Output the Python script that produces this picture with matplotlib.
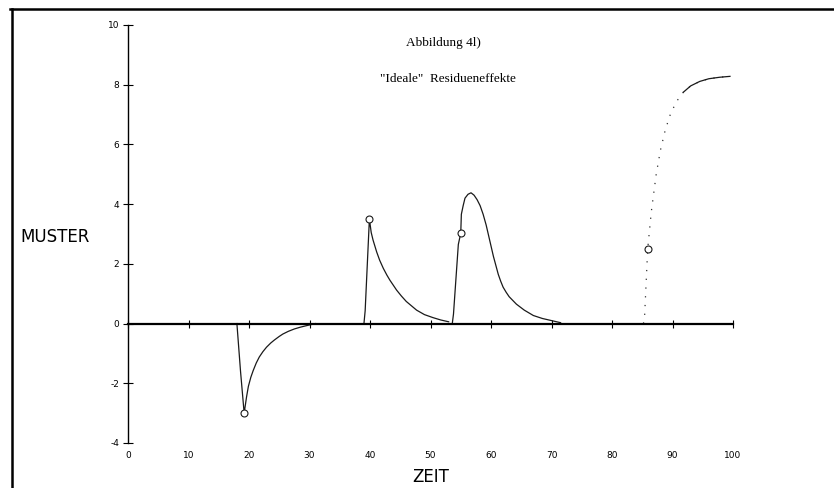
import matplotlib
matplotlib.use('Agg')
import matplotlib.pyplot as plt
from matplotlib.lines import Line2D

# Residue events (time, sample value)
neg_t = [18.0, 18.6, 19.2, 19.6, 19.9, 20.3, 20.7, 21.2, 21.7, 22.3, 22.9,
         23.6, 24.2, 25.0, 25.6, 26.5, 27.5, 28.5, 29.5, 31.0]
neg_m = [0.0, -1.6, -3.0, -2.45, -2.1, -1.8, -1.57, -1.32, -1.12, -0.94, -0.79,
         -0.65, -0.55, -0.43, -0.35, -0.26, -0.18, -0.12, -0.07, 0.0]

spike_t = [39.0, 39.2, 39.9, 40.2, 40.5, 41.1, 41.6, 42.2, 42.8, 43.3, 44.4,
           45.2, 46.0, 47.7, 49.0, 50.4, 51.7, 53.0]
spike_m = [0.0, 0.43, 3.5, 3.05, 2.8, 2.4, 2.12, 1.85, 1.62, 1.45, 1.12,
           0.92, 0.74, 0.45, 0.3, 0.2, 0.12, 0.06]

hump_t = [53.6, 53.8, 54.6, 55.0, 55.1, 55.4, 55.7, 56.2, 56.7, 57.2, 57.7,
          58.2, 58.7, 59.2, 59.6, 60.0, 60.4, 60.8, 61.2, 61.6, 62.0, 62.5,
          63.0, 64.2, 65.5, 67.0, 68.5, 70.0, 71.5]
hump_m = [0.0, 0.32, 2.65, 3.03, 3.66, 3.95, 4.2, 4.33, 4.38, 4.3, 4.15,
          3.95, 3.66, 3.3, 2.95, 2.6, 2.25, 1.95, 1.65, 1.42, 1.22, 1.05,
          0.9, 0.65, 0.45, 0.27, 0.17, 0.1, 0.03]

rise_t = [85.2, 85.4, 85.9, 86.5, 87.3, 88.0, 88.8, 89.6, 90.6, 91.8, 93.0,
          94.5, 96.0, 97.8, 99.5]
rise_m = [0.0, 0.3, 2.5, 3.75, 4.99, 5.8, 6.48, 6.98, 7.42, 7.75, 7.96,
          8.11, 8.2, 8.25, 8.28]

mark_t = [19.2, 39.9, 55.0, 85.9]
mark_m = [-3.0, 3.5, 3.03, 2.5]

x_ticks = [0, 10, 20, 30, 40, 50, 60, 70, 80, 90, 100]
y_ticks = [-4, -2, 0, 2, 4, 6, 8, 10]

title_1 = 'Abbildung 4l)'
title_2 = '"Ideale"  Residueneffekte'

plt.rcParams['axes.unicode_minus'] = False

dpi = 100
fig = plt.figure(figsize=(834 / dpi, 488 / dpi), dpi=dpi)
ax = fig.add_axes([128 / 834, 45 / 488, 605 / 834, 418 / 488])

line_kw = {'color': '#1a1a1a', 'linewidth': 0.9}
ax.plot(neg_t, neg_m, **line_kw)
ax.plot(spike_t, spike_m, **line_kw)
ax.plot(hump_t, hump_m, **line_kw)

# last event is mostly faded in the scan: sparse dots, solid tail
ax.plot(rise_t, rise_m, color='#333333', linewidth=0.9, linestyle=(0, (1, 6)))
tail = [i for i, t in enumerate(rise_t) if t >= 91.8]
ax.plot([rise_t[i] for i in tail], [rise_m[i] for i in tail], **line_kw)

ax.plot(mark_t, mark_m, linestyle='none', marker='o', markersize=5,
        markerfacecolor='white', markeredgecolor='#1a1a1a', markeredgewidth=0.8)

ax.set_xlim(0, 100)
ax.set_ylim(-4, 10)
ax.spines['top'].set_visible(False)
ax.spines['right'].set_visible(False)
ax.spines['bottom'].set_position(('data', 0))
ax.spines['bottom'].set_linewidth(1.6)
ax.spines['left'].set_linewidth(1.0)

ax.set_xticks(x_ticks)
ax.set_yticks(y_ticks)
ax.tick_params(axis='x', direction='inout', length=6, width=0.8, pad=89,
               labelsize=6.5)
ax.tick_params(axis='y', direction='inout', length=7, width=0.8, pad=3,
               labelsize=6.5)

fig.text(20 / 834, 1 - 237 / 488, 'MUSTER', fontsize=12, ha='left', va='center')
fig.text(431 / 834, 1 - 477 / 488, 'ZEIT', fontsize=12, ha='center', va='center')

fig.text(443 / 834, 1 - 43 / 488, title_1, fontsize=9.5,
         family='Liberation Serif', ha='center', va='center')
fig.text(448 / 834, 1 - 79 / 488, title_2, fontsize=9.5,
         family='Liberation Serif', ha='center', va='center')

# scan frame: top and left edges
fig.add_artist(Line2D([10 / 834, 1], [1 - 8.5 / 488, 1 - 8.5 / 488],
                      color='black', linewidth=1.8))
fig.add_artist(Line2D([12 / 834, 12 / 834], [0, 1 - 8.5 / 488],
                      color='black', linewidth=1.8))

fig.savefig('out.png', dpi=dpi)
